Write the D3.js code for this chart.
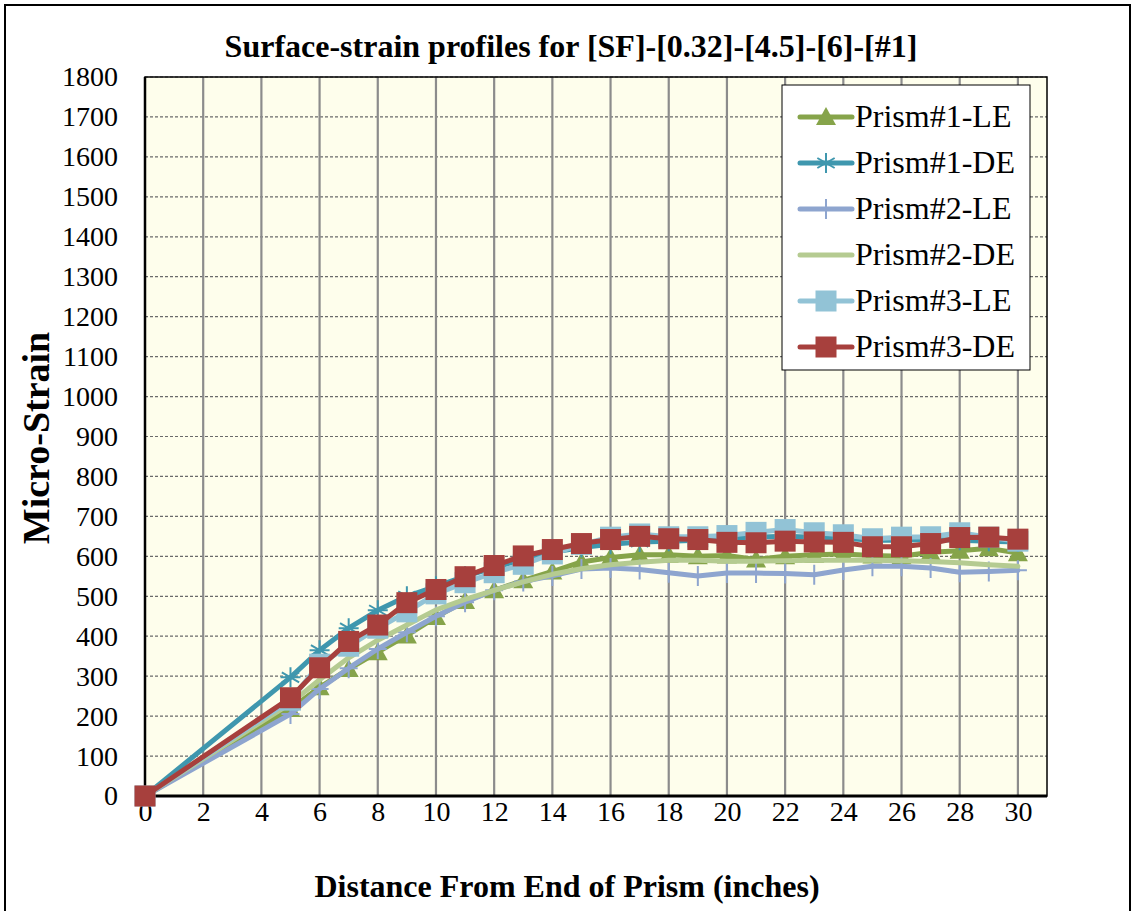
<!DOCTYPE html>
<html>
<head>
<meta charset="utf-8">
<script src="https://cdn.jsdelivr.net/npm/d3@7"></script>
<style>
  html, body { margin: 0; padding: 0; background: #fff; }
  svg { display: block; }
  svg text { font-family: "Liberation Serif", "Times New Roman", "DejaVu Serif", serif !important; fill: #000; }
</style>
</head>
<body>
<svg id="chart" width="1135" height="911"></svg>
<script>
// Distance along the prism (inches) at each gauge reading
const distance = [0, 5, 6, 7, 8, 9, 10, 11, 12, 13, 14, 15, 16, 17, 18, 19, 20, 21, 22, 23, 24, 25, 26, 27, 28, 29, 30];

// Surface strain readings (micro-strain) per prism and end
const prism1LE = [0, 218, 272, 318, 360, 402, 448, 488, 515, 540, 562, 586, 597, 604, 604, 600, 602, 592, 600, 604, 606, 602, 600, 610, 614, 620, 608];
const prism1DE = [0, 297, 365, 420, 465, 500, 525, 550, 572, 592, 610, 622, 630, 636, 638, 640, 642, 648, 650, 648, 645, 640, 640, 642, 640, 638, 636];
const prism2LE = [0, 205, 268, 320, 368, 410, 450, 485, 515, 537, 551, 568, 571, 567, 559, 551, 558, 558, 557, 554, 566, 575, 575, 571, 560, 562, 565];
const prism2DE = [0, 232, 291, 346, 390, 428, 466, 492, 515, 536, 555, 569, 579, 585, 590, 590, 588, 588, 589, 590, 590, 590, 589, 587, 584, 579, 575];
const prism3LE = [0, 240, 330, 375, 420, 461, 506, 534, 559, 580, 606, 630, 648, 656, 649, 649, 652, 660, 667, 659, 654, 644, 648, 649, 659, 648, 638];
const prism3DE = [0, 246, 321, 387, 428, 484, 517, 549, 577, 601, 617, 632, 642, 650, 644, 642, 635, 634, 638, 636, 635, 624, 624, 632, 647, 648, 643];

const seriesNames = ["Prism#1-LE", "Prism#1-DE", "Prism#2-LE", "Prism#2-DE", "Prism#3-LE", "Prism#3-DE"];
const seriesValues = [prism1LE, prism1DE, prism2LE, prism2DE, prism3LE, prism3DE];

const xTicks = d3.range(0, 31, 2);
const yTicks = d3.range(0, 1801, 100);

const titleText = "Surface-strain profiles for [SF]-[0.32]-[4.5]-[6]-[#1]";
const xTitle = "Distance From End of  Prism (inches)";
const yTitle = "Micro-Strain";

const FONT = "'Liberation Serif', 'Times New Roman', 'DejaVu Serif', serif";

// Styling per series: colour and marker shape
const styles = [
  { color: "#86A44A", marker: "triangle" },
  { color: "#3F97AE", marker: "asterisk" },
  { color: "#8EA5CF", marker: "plus" },
  { color: "#B5CB91", marker: "none" },
  { color: "#92C3D6", marker: "square" },
  { color: "#A7403D", marker: "square" }
];

const svg = d3.select("#chart").attr("font-family", FONT);

// Outer chart frame
svg.append("rect")
  .attr("x", 5).attr("y", 5).attr("width", 1125).attr("height", 920)
  .attr("fill", "#fff").attr("stroke", "#000").attr("stroke-width", 2);

const plot = { left: 145, right: 1047, top: 77, bottom: 796 };

const x = d3.scaleLinear().domain([0, 31]).range([plot.left, plot.right]);
const y = d3.scaleLinear().domain([0, 1800]).range([plot.bottom, plot.top]);

// Plot background
svg.append("rect")
  .attr("x", plot.left).attr("y", plot.top)
  .attr("width", plot.right - plot.left).attr("height", plot.bottom - plot.top)
  .attr("fill", "#FEFEEC");

// Horizontal dashed gridlines
svg.append("g")
  .selectAll("line")
  .data(yTicks.filter(d => d > 0))
  .join("line")
  .attr("x1", plot.left).attr("x2", plot.right)
  .attr("y1", d => y(d)).attr("y2", d => y(d))
  .attr("stroke", "#6a6a6a").attr("stroke-width", 1.2)
  .attr("stroke-dasharray", "3,2");

// Vertical solid gridlines
svg.append("g")
  .selectAll("line")
  .data(xTicks.filter(d => d > 0))
  .join("line")
  .attr("x1", d => x(d)).attr("x2", d => x(d))
  .attr("y1", plot.top).attr("y2", plot.bottom)
  .attr("stroke", "#8C8C8C").attr("stroke-width", 2.2);

// Plot border
svg.append("rect")
  .attr("x", plot.left).attr("y", plot.top)
  .attr("width", plot.right - plot.left).attr("height", plot.bottom - plot.top)
  .attr("fill", "none").attr("stroke", "#000").attr("stroke-width", 1.5);

// Axis lines
svg.append("line")
  .attr("x1", plot.left).attr("x2", plot.left)
  .attr("y1", plot.top).attr("y2", plot.bottom + 1.5)
  .attr("stroke", "#000").attr("stroke-width", 2.5);
svg.append("line")
  .attr("x1", plot.left - 1).attr("x2", plot.right)
  .attr("y1", plot.bottom).attr("y2", plot.bottom)
  .attr("stroke", "#000").attr("stroke-width", 3);

// Axis tick labels
const xAxis = d3.axisBottom(x).tickValues(xTicks).tickSize(0).tickPadding(5).tickFormat(d3.format("d"));
const gx = svg.append("g").attr("transform", `translate(0,${plot.bottom})`).call(xAxis);
gx.attr("font-family", FONT).attr("font-size", 28);
gx.select(".domain").remove();
gx.selectAll("text").attr("fill", "#000");

const yAxis = d3.axisLeft(y).tickValues(yTicks).tickSize(0).tickPadding(27).tickFormat(d3.format("d"));
const gy = svg.append("g").attr("transform", `translate(${plot.left},0)`).call(yAxis);
gy.attr("font-family", FONT).attr("font-size", 28);
gy.select(".domain").remove();
gy.selectAll("text").attr("fill", "#000");

// Titles
svg.append("text")
  .attr("x", 571).attr("y", 57)
  .attr("text-anchor", "middle")
  .attr("font-size", 32).attr("font-weight", "bold")
  .text(titleText);

svg.append("text")
  .attr("x", 567).attr("y", 897)
  .attr("text-anchor", "middle")
  .attr("font-size", 32).attr("font-weight", "bold")
  .text(xTitle);

svg.append("text")
  .attr("transform", "translate(49,438) rotate(-90)")
  .attr("text-anchor", "middle")
  .attr("font-size", 38).attr("font-weight", "bold")
  .text(yTitle);

// Marker drawing helper
function drawMarker(g, shape, color, cx, cy) {
  if (shape === "triangle") {
    g.append("path")
      .attr("d", `M${cx},${cy - 10} L${cx + 10},${cy + 8} L${cx - 10},${cy + 8} Z`)
      .attr("fill", color);
  } else if (shape === "square") {
    g.append("rect")
      .attr("x", cx - 10.5).attr("y", cy - 10.5).attr("width", 21).attr("height", 21)
      .attr("fill", color);
  } else if (shape === "plus") {
    g.append("path")
      .attr("d", `M${cx},${cy - 10} L${cx},${cy + 10} M${cx - 9},${cy} L${cx + 9},${cy}`)
      .attr("stroke", color).attr("stroke-width", 2);
  } else if (shape === "asterisk") {
    const r = 10;
    let d = `M${cx},${cy - r} L${cx},${cy + r}`;
    [30, 150].forEach(a => {
      const rad = a * Math.PI / 180;
      d += ` M${cx - r * Math.cos(rad)},${cy - r * Math.sin(rad)} L${cx + r * Math.cos(rad)},${cy + r * Math.sin(rad)}`;
    });
    d += ` M${cx - r},${cy} L${cx + r},${cy}`;
    g.append("path").attr("d", d).attr("stroke", color).attr("stroke-width", 2);
  }
}

const line = d3.line().x(d => x(d[0])).y(d => y(d[1]));

seriesValues.forEach((vals, i) => {
  const pts = distance.map((dv, j) => [dv, vals[j]]);
  const g = svg.append("g").attr("class", "series");
  g.append("path")
    .attr("d", line(pts))
    .attr("fill", "none")
    .attr("stroke", styles[i].color)
    .attr("stroke-width", 5)
    .attr("stroke-linejoin", "round")
    .attr("stroke-linecap", "round");
  pts.forEach(p => drawMarker(g, styles[i].marker, styles[i].color, x(p[0]), y(p[1])));
});

// Legend
const legend = svg.append("g");
legend.append("rect")
  .attr("x", 782).attr("y", 85).attr("width", 248).attr("height", 285)
  .attr("fill", "#fff").attr("stroke", "#000").attr("stroke-width", 1);

seriesNames.forEach((name, i) => {
  const ly = 117 + i * 46;
  legend.append("line")
    .attr("x1", 800).attr("x2", 852).attr("y1", ly).attr("y2", ly)
    .attr("stroke", styles[i].color).attr("stroke-width", 5)
    .attr("stroke-linecap", "round");
  drawMarker(legend, styles[i].marker, styles[i].color, 826, ly);
  legend.append("text")
    .attr("x", 855).attr("y", ly + 10)
    .attr("font-size", 32)
    .text(name);
});
</script>
</body>
</html>
